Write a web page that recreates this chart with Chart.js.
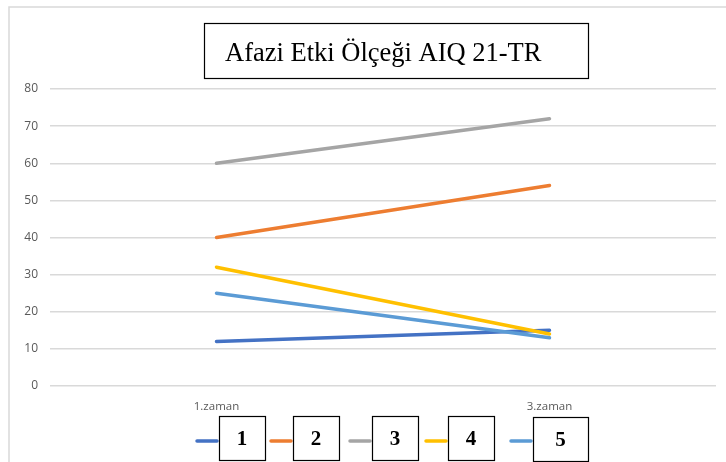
<!DOCTYPE html>
<html lang="tr">
<head>
    <meta charset="UTF-8">
    <title>Afazi Etki Ölçeği AIQ 21-TR</title>
    <script src="https://cdn.jsdelivr.net/npm/chart.js"></script>
    <style>
        html, body { margin: 0; padding: 0; background: #fff; }
        #wrap { width: 726px; height: 462px; }
    </style>
</head>
<body>
    <div id="wrap"><canvas id="aiqChart" width="726" height="462"></canvas></div>

    <script>
        // Veriler
        const chartTitle = 'Afazi Etki Ölçeği AIQ 21-TR';
        const zamanlar = ['1.zaman', '3.zaman'];
        const seriAdlari = ['1', '2', '3', '4', '5'];
        const seri1 = [12, 15];
        const seri2 = [40, 54];
        const seri3 = [60, 72];
        const seri4 = [32, 14];
        const seri5 = [25, 13];
        const yTicks = [0, 10, 20, 30, 40, 50, 60, 70, 80];

        const renkler = ['#4472C4', '#ED7D31', '#A5A5A5', '#FFC000', '#5B9BD5'];
        const seriler = [seri1, seri2, seri3, seri4, seri5];

        // Cerceve, baslik kutusu ve kutulu lejant
        const decorPlugin = {
            id: 'decor',
            beforeDraw(chart) {
                const ctx = chart.ctx;
                ctx.save();
                ctx.fillStyle = '#fff';
                ctx.fillRect(0, 0, chart.width, chart.height);
                ctx.strokeStyle = '#d9d9d9';
                ctx.lineWidth = 1.5;
                ctx.beginPath();
                ctx.moveTo(9, chart.height);
                ctx.lineTo(9, 7);
                ctx.lineTo(chart.width, 7);
                ctx.stroke();
                ctx.restore();
            },
            afterDraw(chart) {
                const ctx = chart.ctx;
                ctx.save();
                // baslik kutusu
                ctx.fillStyle = '#fff';
                ctx.fillRect(204, 23, 385, 56);
                ctx.strokeStyle = '#000';
                ctx.lineWidth = 1.2;
                ctx.strokeRect(204.5, 23.5, 384, 55);
                ctx.fillStyle = '#000';
                ctx.font = '26.5px "Liberation Serif", "DejaVu Serif", serif';
                ctx.textBaseline = 'alphabetic';
                ctx.textAlign = 'left';
                ctx.fillText(chartTitle, 225, 61);

                // lejant
                const boxLefts = [219, 293, 372, 448, 533];
                chart.data.datasets.forEach((ds, i) => {
                    const bx = boxLefts[i];
                    ctx.strokeStyle = ds.borderColor;
                    ctx.lineWidth = 3.5;
                    ctx.lineCap = 'round';
                    ctx.beginPath();
                    ctx.moveTo(bx - 22, 441);
                    ctx.lineTo(bx - 2, 441);
                    ctx.stroke();
                    const bw = i === 4 ? 55 : 46;
                    const by = i === 4 ? 417 : 416;
                    ctx.fillStyle = '#fff';
                    ctx.fillRect(bx, by, bw, 44);
                    ctx.strokeStyle = '#000';
                    ctx.lineWidth = 1.2;
                    ctx.strokeRect(bx + 0.5, by + 0.5, bw, 44);
                    ctx.fillStyle = '#000';
                    ctx.font = 'bold 21px "Liberation Serif", "DejaVu Serif", serif';
                    ctx.textAlign = 'center';
                    ctx.textBaseline = 'middle';
                    ctx.fillText(ds.label, bx + bw / 2, by + 24);
                });
                ctx.restore();
            }
        };

        const ctx = document.getElementById('aiqChart').getContext('2d');
        new Chart(ctx, {
            type: 'line',
            data: {
                labels: zamanlar,
                datasets: seriler.map((d, i) => ({
                    label: seriAdlari[i],
                    data: d,
                    borderColor: renkler[i],
                    backgroundColor: renkler[i],
                    borderWidth: 3.5,
                    borderCapStyle: 'round',
                    pointRadius: 0,
                    tension: 0,
                    order: seriler.length - i
                }))
            },
            options: {
                responsive: false,
                animation: false,
                layout: { padding: { left: 8, right: 10, top: 89, bottom: 48 } },
                plugins: {
                    legend: { display: false },
                    title: { display: false },
                    tooltip: { enabled: false }
                },
                scales: {
                    x: {
                        offset: true,
                        grid: { display: false },
                        border: { display: false },
                        ticks: {
                            color: '#595959',
                            font: { family: '"Open Sans", "Liberation Sans", sans-serif', size: 11.5 },
                            padding: 6
                        },
                        afterFit: s => { s.height = 28; }
                    },
                    y: {
                        min: 0,
                        max: 80,
                        afterBuildTicks: s => { s.ticks = yTicks.map(v => ({ value: v })); },
                        grid: { color: '#d9d9d9', lineWidth: 1.5, drawTicks: false },
                        border: { display: false },
                        ticks: {
                            color: '#595959',
                            font: { family: '"Open Sans", "Liberation Sans", sans-serif', size: 12 },
                            padding: 12
                        },
                        afterFit: s => { s.width = 42; }
                    }
                }
            },
            plugins: [decorPlugin]
        });
    </script>
</body>
</html>
